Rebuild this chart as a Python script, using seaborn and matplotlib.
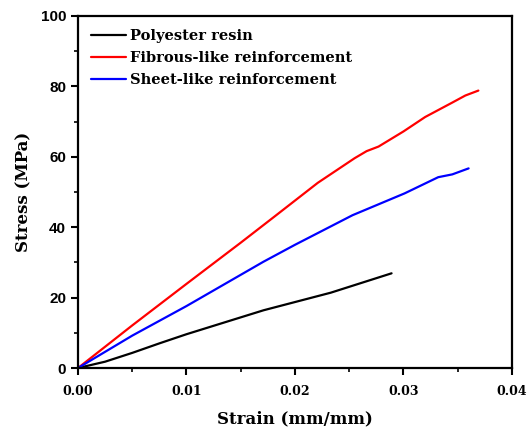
import matplotlib
matplotlib.use("Agg")
import matplotlib.pyplot as plt
import seaborn as sns
import pandas as pd
from matplotlib.ticker import MultipleLocator

resin_strain = [0.0, 0.0025, 0.005, 0.0075, 0.01, 0.0171, 0.0233, 0.0289]
resin_stress = [0.0, 1.8, 4.3, 7.0, 9.6, 16.4, 21.4, 26.9]

fibrous_strain = [0.0, 0.005, 0.01, 0.015, 0.0181, 0.0221, 0.0255, 0.0266, 0.0277, 0.030, 0.032, 0.0345, 0.0357, 0.0369]
fibrous_stress = [0.0, 12.1, 23.9, 35.6, 43.0, 52.6, 59.6, 61.6, 62.9, 67.2, 71.3, 75.4, 77.4, 78.8]

sheet_strain = [0.0, 0.005, 0.01, 0.0171, 0.020, 0.0253, 0.0301, 0.0332, 0.0345, 0.036]
sheet_stress = [0.0, 9.2, 17.6, 30.2, 35.0, 43.4, 49.6, 54.2, 55.0, 56.7]

names = ["Polyester resin", "Fibrous-like reinforcement", "Sheet-like reinforcement"]
colors = ["black", "#ff0000", "#0000ff"]

records = []
for name, xs, ys in zip(names,
                        [resin_strain, fibrous_strain, sheet_strain],
                        [resin_stress, fibrous_stress, sheet_stress]):
    for x, y in zip(xs, ys):
        records.append({"Material": name, "Strain": x, "Stress": y})
df = pd.DataFrame(records)

sns.set_theme(style="white")
plt.rcParams["font.family"] = ["DejaVu Serif"]
plt.rcParams.update({"text.color": "black", "axes.labelcolor": "black",
                     "xtick.color": "black", "ytick.color": "black"})

fig = plt.figure(figsize=(5.28, 4.32), dpi=100)
ax = fig.add_axes([0.1477, 0.1481, 0.822, 0.815])

sns.lineplot(data=df, x="Strain", y="Stress", hue="Material", hue_order=names,
             palette=colors, sort=False, estimator=None, units="Material",
             linewidth=1.6, ax=ax)

ax.set_xlim(0, 0.04)
ax.set_ylim(0, 100)
ax.xaxis.set_major_locator(MultipleLocator(0.01))
ax.xaxis.set_minor_locator(MultipleLocator(0.005))
ax.yaxis.set_major_locator(MultipleLocator(20))
ax.yaxis.set_minor_locator(MultipleLocator(10))
ax.xaxis.set_major_formatter(matplotlib.ticker.FormatStrFormatter("%.2f"))

ax.tick_params(which="major", direction="out", length=5, width=1.5,
               bottom=True, left=True, labelsize=9)
ax.tick_params(axis="x", which="major", pad=7)
ax.tick_params(which="minor", direction="out", length=3, width=1.2,
               bottom=True, left=True)
for lab in ax.get_xticklabels():
    lab.set_fontweight("bold")
for lab in ax.get_yticklabels():
    lab.set_fontweight("bold")
    lab.set_family("Liberation Sans")
    lab.set_fontsize(11)

for sp in ax.spines.values():
    sp.set_linewidth(1.6)
    sp.set_color("black")

ax.set_xlabel("Strain (mm/mm)", fontsize=12, fontweight="bold", labelpad=9)
ax.set_ylabel("Stress (MPa)", fontsize=12, fontweight="bold", labelpad=6)

leg = ax.legend(loc="upper left", frameon=False, handlelength=2.4,
                handletextpad=0.3, labelspacing=0.55, borderaxespad=0.5,
                prop={"weight": "bold", "size": 10.5})

fig.savefig("out.png", dpi=100)
